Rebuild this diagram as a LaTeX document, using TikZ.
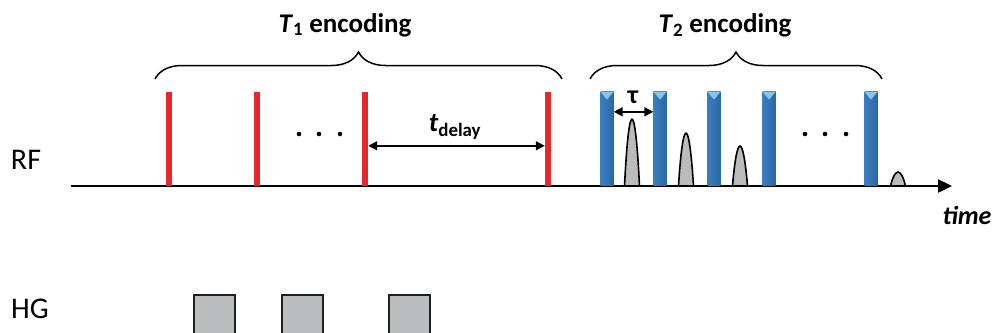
\documentclass[tikz,border=0pt]{standalone}
\usepackage{fontspec}
\setmainfont{Carlito}
\usetikzlibrary{arrows.meta,decorations.pathreplacing}
\definecolor{pulsered}{RGB}{229,40,46}
\definecolor{pulseblue}{RGB}{58,126,191}
\definecolor{pulsebluedark}{RGB}{42,104,165}
\definecolor{pulsetop}{RGB}{134,197,236}
\definecolor{echogray}{RGB}{185,187,189}
\definecolor{boxedge}{RGB}{30,32,34}
\begin{document}
\begin{tikzpicture}[x=1pt,y=-1pt,
    lbl/.style ={font=\fontsize{30}{36}\selectfont},
    head/.style ={font=\fontsize{27}{32}\selectfont\bfseries},
    redpulse/.style ={rectangle, fill=pulsered, inner sep=0pt, minimum width=6pt, minimum height=94pt, anchor=south},
    bluepulse/.style ={rectangle, left color=pulseblue, right color=pulsebluedark, inner sep=0pt, minimum width=13pt, minimum height=94pt, anchor=south},
    hgbox/.style ={rectangle, draw=boxedge, fill=echogray, line width=2pt, inner sep=0pt, minimum width=41pt, minimum height=50pt, anchor=north},
    echo/.style ={draw=black, fill=echogray, line width=1.6pt},
    dimarrow/.style ={line width=1.6pt, {Triangle[length=9pt,width=9pt]}-{Triangle[length=9pt,width=9pt]}},
    brace/.style ={decorate, decoration={brace, amplitude=27pt}, line width=1.5pt}]
   \clip (0,0) rectangle (995,332);
   % labels
   \node[lbl] (rf) at (26,160) {RF};
   \node[lbl] (hg) at (30,309) {HG};
   \node[head] (t1) at (345,25) {\textit{T}\textsubscript{1} encoding};
   \node[head] (t2) at (725,25) {\textit{T}\textsubscript{2} encoding};
   \node[font=\fontsize{26}{30}\selectfont\bfseries\itshape] (time) at (967,215) {time};
   % time axis
   \coordinate (o) at (71,186);
   \coordinate (e) at (952,186);
   % echoes
   \foreach \x/\t in {632/119,686/133,740/146,898/172}
     \draw[echo] ({\x-7.5},186) .. controls ({\x-3},{186-(186-\t)*1.33}) and ({\x+3},{186-(186-\t)*1.33}) .. ({\x+7.5},186);
   \draw[line width=2.4pt, -{Triangle[length=14pt,width=13pt]}] (o) -- (e);
   % pulses
   \foreach \x [count=\i] in {169,257,365,548}
     \node[redpulse] (r\i) at (\x,186) {};
   \foreach \x [count=\i] in {607,660,714,769,871} {
     \node[bluepulse] (b\i) at (\x,186) {};
     \fill[pulsetop] (b\i.north west) -- (b\i.north east) -- ([yshift=-8pt]b\i.north) -- cycle;
   }
   \foreach \x in {299,319,340,805,825,846}
     \fill (\x,134) circle (2.3);
   % delays
   \draw[dimarrow] ([yshift=-7pt]r3.east) -- ([yshift=-7pt]r4.west);
   \node[font=\fontsize{27}{32}\selectfont\bfseries] (td) at (455,127) {\textit{t}\textsubscript{delay}};
   \draw[dimarrow] ([yshift=27pt]b1.east) -- ([yshift=27pt]b2.west);
   \node[font=\fontsize{26}{30}\selectfont\bfseries] (tau) at (633,97) {τ};
   % braces
   \coordinate (t1a) at (155,79);
   \coordinate (t1b) at (562,79);
   \coordinate (t2a) at (590,79);
   \coordinate (t2b) at (882,79);
   \draw[brace] (t1a) -- (t1b);
   \draw[brace] (t2a) -- (t2b);
   % gradient
   \foreach \x [count=\i] in {214,302,409}
     \node[hgbox] (h\i) at (\x,294) {};
 \end{tikzpicture}
\end{document}
